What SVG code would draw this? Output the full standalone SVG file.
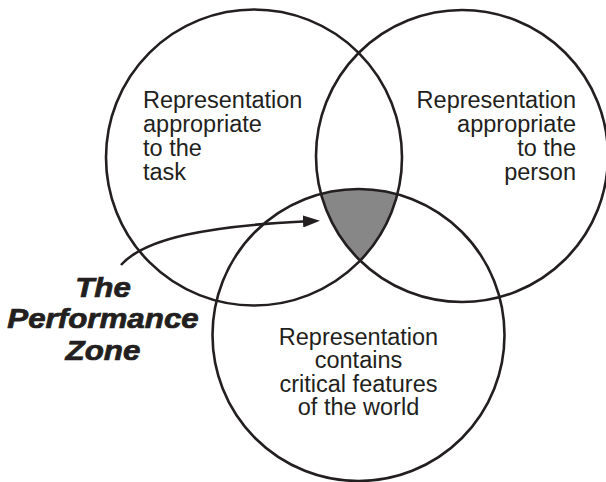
<svg xmlns="http://www.w3.org/2000/svg" width="606" height="482" viewBox="0 0 606 482">
  <style>
    .ring { fill: none; stroke: #231f20; stroke-width: 2.6; }
    .label { font-family: "Liberation Sans", Arial, sans-serif; font-size: 23.5px; fill: #231f20; }
    .zone { font-family: "Liberation Sans", Arial, sans-serif; font-size: 27.5px; font-weight: bold; font-style: italic; fill: #231f20; stroke: #231f20; stroke-width: 0.7; }
    .link { fill: none; stroke: #231f20; stroke-width: 2.6; }
  </style>
  <defs>
    <marker id="arrowhead" markerUnits="userSpaceOnUse" viewBox="0 0 17 12" refX="0" refY="6" markerWidth="17" markerHeight="12" orient="auto">
      <path d="M0,0 L17,6 L0,12 Z" fill="#231f20"/>
    </marker>
  </defs>
  <rect width="606" height="482" fill="#ffffff"/>

  <!-- shared region of all three sets -->
  <g id="performance-zone">
    <path d="M321,193.9 A146,146 0 0 1 397.4,194.3 A148,148 0 0 1 360.2,260.6 A146,146 0 0 1 321,193.9 Z" fill="#878787"/>
  </g>

  <g id="task">
    <circle class="ring" cx="254" cy="157.5" r="148"/>
    <text class="label" x="143" y="108">Representation</text>
    <text class="label" x="143" y="132">appropriate</text>
    <text class="label" x="143" y="156">to the</text>
    <text class="label" x="143" y="180">task</text>
  </g>

  <g id="person">
    <circle class="ring" cx="462" cy="156" r="146"/>
    <text class="label" x="576" y="108" text-anchor="end">Representation</text>
    <text class="label" x="576" y="132" text-anchor="end">appropriate</text>
    <text class="label" x="576" y="156" text-anchor="end">to the</text>
    <text class="label" x="576" y="180" text-anchor="end">person</text>
  </g>

  <g id="world">
    <circle class="ring" cx="358.5" cy="335" r="146"/>
    <text class="label" x="358.5" y="344.5" text-anchor="middle">Representation</text>
    <text class="label" x="358.5" y="368" text-anchor="middle">contains</text>
    <text class="label" x="358.5" y="391.5" text-anchor="middle">critical features</text>
    <text class="label" x="358.5" y="415" text-anchor="middle">of the world</text>
  </g>

  <!-- caption set wide and heavy -->
  <g id="zone-label" transform="translate(103,0) scale(1.14,1)">
    <text class="zone" x="0" y="297" text-anchor="middle">The</text>
    <text class="zone" x="0" y="328.5" text-anchor="middle">Performance</text>
    <text class="zone" x="0" y="360" text-anchor="middle">Zone</text>
  </g>

  <g id="connectors">
    <path class="link" d="M121,265 C145,238 210,226 303,221.5" marker-end="url(#arrowhead)"/>
  </g>
</svg>
